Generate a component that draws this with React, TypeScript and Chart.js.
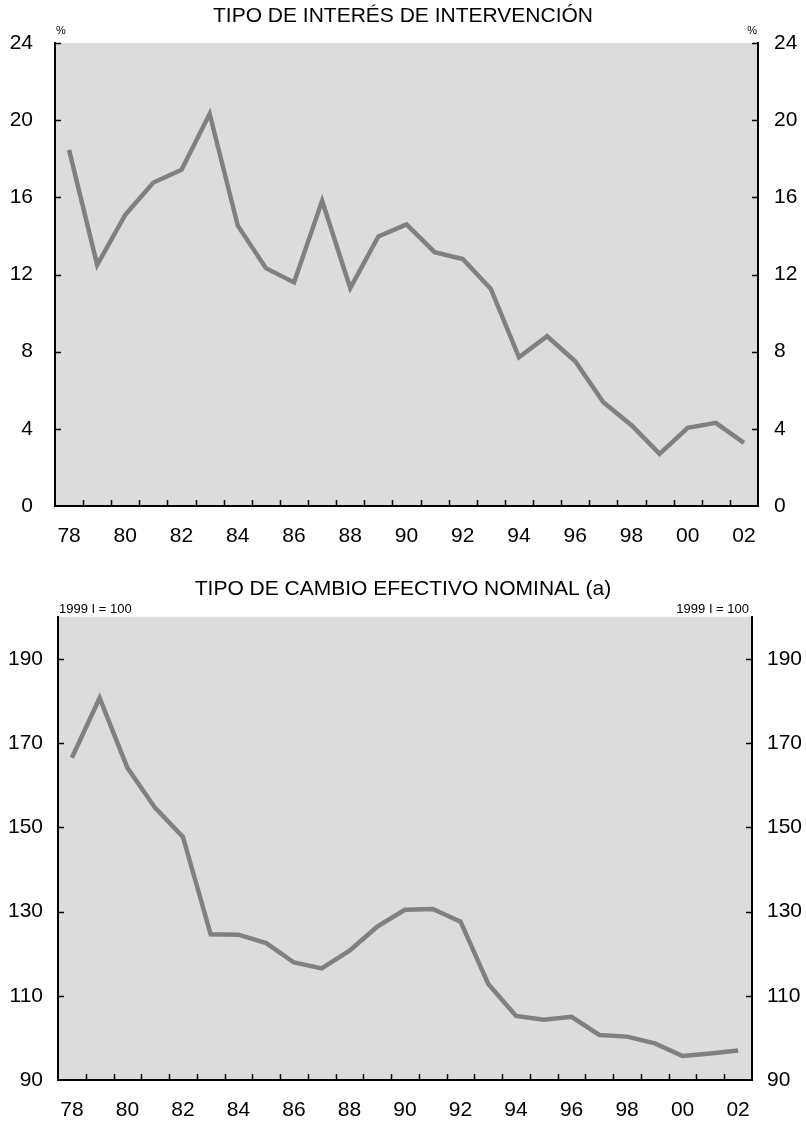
import React, { useEffect, useRef } from "react";
import { Chart, registerables } from "chart.js";

Chart.register(...registerables);

const years = [
  "78", "79", "80", "81", "82", "83", "84", "85", "86", "87", "88", "89", "90",
  "91", "92", "93", "94", "95", "96", "97", "98", "99", "00", "01", "02",
];

const rateValues = [
  18.46, 12.5, 15.1, 16.77, 17.43, 20.33, 14.53, 12.33, 11.59, 15.82, 11.3, 13.97,
  14.6, 13.16, 12.8, 11.25, 7.71, 8.8, 7.5, 5.38, 4.19, 2.7, 4.05, 4.31, 3.27,
];

const exchangeValues = [
  166.5, 180.7, 164.1, 154.6, 147.7, 124.6, 124.5, 122.5, 117.9, 116.5, 120.7, 126.4,
  130.4, 130.6, 127.6, 112.8, 105.2, 104.3, 105.0, 100.7, 100.3, 98.7, 95.7, 96.3, 97.0,
];

const rateTicks = [0, 4, 8, 12, 16, 20, 24];
const exchangeTicks = [90, 110, 130, 150, 170, 190];

const rateTitle = "TIPO DE INTERÉS DE INTERVENCIÓN";
const exchangeTitle = "TIPO DE CAMBIO EFECTIVO NOMINAL (a)";
const rateUnit = "%";
const exchangeUnit = "1999 I = 100";

const FONT = "'Liberation Sans', Arial, Helvetica, sans-serif";

type PanelProps = {
  title: string;
  unit: string;
  values: number[];
  ticks: number[];
  min: number;
  max: number;
  height: number;
  top: number;
  leftW: number;
  rightW: number;
  leftPad: number;
  rightPad: number;
  titlePadTop: number;
  titlePadBottom: number;
  xHeight: number;
  unitSize: number;
  unitOffset: number;
  unitRightInset: number;
};

function Panel(p: PanelProps) {
  const ref = useRef<HTMLCanvasElement | null>(null);

  useEffect(() => {
    if (!ref.current) return;
    const framePlugin = {
      id: "frame",
      beforeDraw(chart: any) {
        const { ctx, chartArea: a } = chart;
        ctx.save();
        ctx.fillStyle = "#dcdcdc";
        ctx.fillRect(a.left, a.top, a.right - a.left, a.bottom - a.top);
        ctx.restore();
      },
      afterDraw(chart: any) {
        const { ctx, chartArea: a } = chart;
        const xs = chart.scales.x;
        const ys = chart.scales.y;
        const tl = 6;
        ctx.save();
        ctx.strokeStyle = "#000";
        ctx.lineWidth = 1.5;
        ctx.beginPath();
        for (let i = 1; i < years.length; i++) {
          const x = Math.round(xs.getPixelForValue(i - 0.5)) + 0.5;
          ctx.moveTo(x, a.bottom);
          ctx.lineTo(x, a.bottom - tl);
        }
        for (const v of p.ticks) {
          if (v === p.min) continue;
          const y = Math.round(ys.getPixelForValue(v)) + 0.5;
          ctx.moveTo(a.left, y);
          ctx.lineTo(a.left + tl, y);
          ctx.moveTo(a.right, y);
          ctx.lineTo(a.right - tl, y);
        }
        ctx.stroke();
        ctx.fillStyle = "#000";
        ctx.font = `${p.unitSize}px ${FONT}`;
        ctx.textBaseline = "alphabetic";
        ctx.textAlign = "left";
        ctx.fillText(p.unit, a.left + 1, a.top - p.unitOffset);
        ctx.textAlign = "right";
        ctx.fillText(p.unit, a.right - p.unitRightInset, a.top - p.unitOffset);
        ctx.restore();
      },
    };

    const tickFont = { family: FONT, size: 21 };
    const yCommon = (pos: "left" | "right") => ({
      type: "linear" as const,
      position: pos,
      min: p.min,
      max: p.max,
      afterBuildTicks: (s: any) => {
        s.ticks = p.ticks.map((v) => ({ value: v }));
      },
      grid: { display: false, drawTicks: false },
      border: { display: true, color: "#000", width: 2 },
      ticks: {
        padding: pos === "left" ? p.leftPad : p.rightPad,
        font: tickFont,
        color: "#000",
        callback: (v: any) => String(v),
      },
      afterFit: (s: any) => {
        s.width = pos === "left" ? p.leftW : p.rightW;
      },
    });

    const chart = new Chart(ref.current, {
      type: "line",
      data: {
        labels: years,
        datasets: [
          {
            data: p.values,
            borderColor: "#808080",
            borderWidth: 4.5,
            pointRadius: 0,
            tension: 0,
            fill: false,
            yAxisID: "y",
          },
        ],
      },
      options: {
        responsive: false,
        maintainAspectRatio: false,
        animation: false,
        layout: { padding: 0 },
        plugins: {
          legend: { display: false },
          tooltip: { enabled: false },
          title: {
            display: true,
            text: p.title,
            color: "#000",
            font: { family: FONT, size: 21, weight: "normal" },
            padding: { top: p.titlePadTop, bottom: p.titlePadBottom },
          },
        },
        scales: {
          x: {
            type: "category",
            offset: true,
            grid: { display: false, drawTicks: false, offset: true },
            border: { display: true, color: "#000", width: 2 },
            ticks: {
              autoSkip: false,
              maxRotation: 0,
              minRotation: 0,
              padding: 18,
              font: tickFont,
              color: "#000",
              callback: (_v: any, i: number) => (i % 2 === 0 ? years[i] : ""),
            },
            afterFit: (s: any) => {
              s.height = p.xHeight;
            },
          },
          y: yCommon("left"),
          y2: yCommon("right"),
        },
      } as any,
      plugins: [framePlugin],
    });
    return () => chart.destroy();
  }, []);

  return (
    <canvas
      ref={ref}
      width={806}
      height={p.height}
      style={{ position: "absolute", left: 0, top: p.top, display: "block" }}
    />
  );
}

export default function App() {
  return (
    <div style={{ position: "absolute", left: 0, top: 0, width: 806, height: 1122, background: "#fff" }}>
      <Panel
        title={rateTitle}
        unit={rateUnit}
        values={rateValues}
        ticks={rateTicks}
        min={0}
        max={24}
        height={560}
        top={0}
        leftW={55}
        rightW={48}
        leftPad={22}
        rightPad={16}
        titlePadTop={4}
        titlePadBottom={13.8}
        xHeight={54}
        unitSize={11}
        unitOffset={8.7}
        unitRightInset={1}
      />
      <Panel
        title={exchangeTitle}
        unit={exchangeUnit}
        values={exchangeValues}
        ticks={exchangeTicks}
        min={90}
        max={200}
        height={562}
        top={560}
        leftW={58}
        rightW={54}
        leftPad={15}
        rightPad={15}
        titlePadTop={16.8}
        titlePadBottom={14.7}
        xHeight={42}
        unitSize={13}
        unitOffset={3.5}
        unitRightInset={3}
      />
    </div>
  );
}
